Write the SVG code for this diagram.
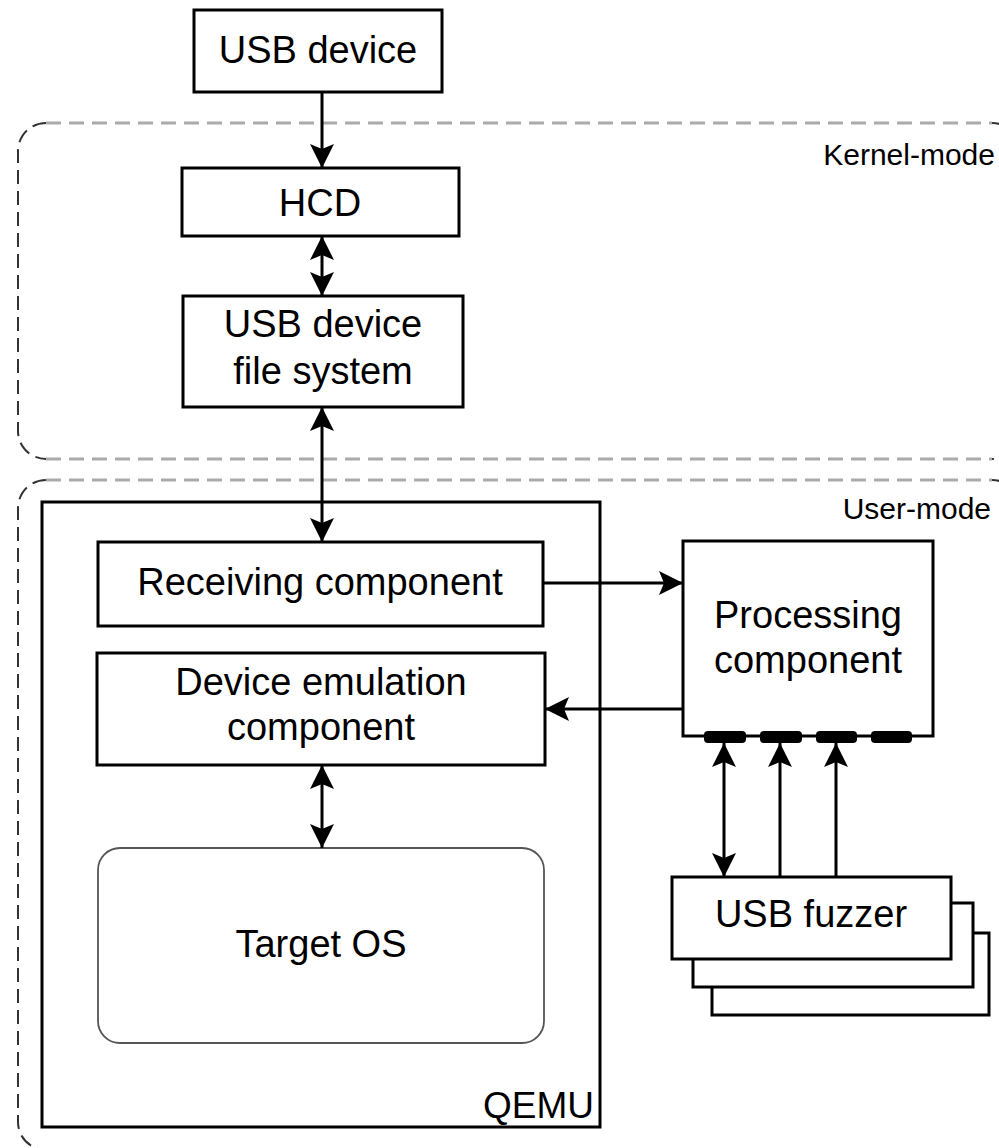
<svg xmlns="http://www.w3.org/2000/svg" width="999" height="1148" viewBox="0 0 999 1148">
  <defs>
    <marker id="ah" viewBox="0 0 24 24" refX="24" refY="12" markerWidth="24" markerHeight="24" markerUnits="userSpaceOnUse" orient="auto-start-reverse">
      <path d="M0,0 L24,12 L0,24 L5,12 Z" fill="#000"/>
    </marker>
    <style>
      .box { fill: #fff; stroke: #000; stroke-width: 3; }
      .os { fill: #fff; stroke: #555; stroke-width: 1.8; }
      .lbl { font-family: "Liberation Sans", Arial, sans-serif; font-size: 38px; fill: #000; text-anchor: middle; }
      .zone { font-family: "Liberation Sans", Arial, sans-serif; font-size: 30px; fill: #000; text-anchor: end; }
      .qemu { font-family: "Liberation Sans", Arial, sans-serif; font-size: 37px; fill: #000; text-anchor: end; }
      .hdash { fill: none; stroke: #aaa; stroke-width: 3; stroke-dasharray: 15 8; }
      .vdash { fill: none; stroke: #333; stroke-width: 2; stroke-dasharray: 14 7; }
      .wire { fill: none; stroke: #000; stroke-width: 3; }
      .port { fill: #000; }
    </style>
  </defs>

  <!-- Kernel-mode region -->
  <g id="kernel-mode">
    <path class="hdash" d="M46,123 H992"/>
    <path class="hdash" d="M46,459 H992"/>
    <path class="vdash" d="M992,123 A28,28 0 0 1 1020,151"/>
    <path class="vdash" d="M1020,431 A28,28 0 0 1 992,459"/>
    <path class="vdash" d="M46,123 A28,28 0 0 0 18,151 V431 A28,28 0 0 0 46,459"/>
    <text class="zone" x="995" y="165">Kernel-mode</text>
  </g>

  <!-- User-mode region -->
  <g id="user-mode">
    <path class="hdash" d="M46,480 H992"/>
    <path class="vdash" d="M992,480 A28,28 0 0 1 1020,508"/>
    <path class="vdash" d="M46,480 A28,28 0 0 0 18,508 V1122 A28,28 0 0 0 46,1150"/>
    <text class="zone" x="991" y="519">User-mode</text>
  </g>

  <!-- QEMU container -->
  <g id="qemu">
    <rect class="box" x="42" y="502" width="558" height="625"/>
    <text class="qemu" x="594" y="1118">QEMU</text>
  </g>

  <g id="usb-device">
    <rect class="box" x="194" y="10" width="248" height="82"/>
    <text class="lbl" x="318" y="63">USB device</text>
  </g>

  <g id="hcd">
    <rect class="box" x="182" y="168" width="277" height="68"/>
    <text class="lbl" x="320" y="216">HCD</text>
  </g>

  <g id="usb-fs">
    <rect class="box" x="183" y="296" width="280" height="111"/>
    <text class="lbl" x="323" y="337">USB device</text>
    <text class="lbl" x="323" y="384">file system</text>
  </g>

  <g id="receiving">
    <rect class="box" x="98" y="542" width="445" height="84"/>
    <text class="lbl" x="320" y="595">Receiving component</text>
  </g>

  <g id="device-emulation">
    <rect class="box" x="97" y="653" width="448" height="112"/>
    <text class="lbl" x="321" y="695">Device emulation</text>
    <text class="lbl" x="321" y="740">component</text>
  </g>

  <g id="target-os">
    <rect class="os" x="98" y="848" width="446" height="195" rx="22" ry="22"/>
    <text class="lbl" x="321" y="957">Target OS</text>
  </g>

  <g id="processing">
    <rect class="box" x="683" y="541" width="250" height="195"/>
    <text class="lbl" x="808" y="628">Processing</text>
    <text class="lbl" x="808" y="673">component</text>
    <rect class="port" x="704" y="731" width="42" height="12" rx="4"/>
    <rect class="port" x="760" y="731" width="42" height="12" rx="4"/>
    <rect class="port" x="816" y="731" width="41" height="12" rx="4"/>
    <rect class="port" x="871" y="731" width="41" height="12" rx="4"/>
  </g>

  <g id="usb-fuzzer">
    <rect class="box" x="712" y="933" width="277" height="82"/>
    <rect class="box" x="693" y="903" width="280" height="84"/>
    <rect class="box" x="672" y="877" width="279" height="82"/>
    <text class="lbl" x="811" y="927">USB fuzzer</text>
  </g>

  <!-- Connectors -->
  <g id="connectors">
    <line class="wire" x1="322" y1="92" x2="322" y2="168" marker-end="url(#ah)"/>
    <line class="wire" x1="322" y1="236" x2="322" y2="296" marker-start="url(#ah)" marker-end="url(#ah)"/>
    <line class="wire" x1="322" y1="407" x2="322" y2="542" marker-start="url(#ah)" marker-end="url(#ah)"/>
    <line class="wire" x1="543" y1="583" x2="683" y2="583" marker-end="url(#ah)"/>
    <line class="wire" x1="683" y1="709" x2="545" y2="709" marker-end="url(#ah)"/>
    <line class="wire" x1="322" y1="765" x2="322" y2="848" marker-start="url(#ah)" marker-end="url(#ah)"/>
    <line class="wire" x1="724" y1="743" x2="724" y2="877" marker-start="url(#ah)" marker-end="url(#ah)"/>
    <line class="wire" x1="780" y1="877" x2="780" y2="743" marker-end="url(#ah)"/>
    <line class="wire" x1="836" y1="877" x2="836" y2="743" marker-end="url(#ah)"/>
  </g>
</svg>
